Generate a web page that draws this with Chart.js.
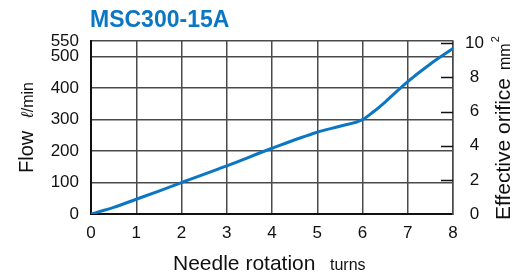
<!DOCTYPE html>
<html>
<head>
<meta charset="utf-8">
<script src="https://cdn.jsdelivr.net/npm/chart.js@4/dist/chart.umd.min.js"></script>
<style>
  html, body { margin: 0; padding: 0; background: #fff; }
  #wrap { width: 521px; height: 275px; position: relative; }
</style>
</head>
<body>
<div id="wrap"><canvas id="flowChart"></canvas></div>
<script>
// MSC300-15A 流量特性
const chartTitle = 'MSC300-15A';
const turns = [0, 0.5, 1, 1.5, 2, 3, 4, 5, 5.5, 6, 6.25, 6.5, 7, 7.5, 8];
const flow = [0, 21, 47, 73, 100, 153, 209, 260, 279, 300, 326, 356, 421, 477, 526];
const flowTicks = [0, 100, 200, 300, 400, 500, 550];
const orificeTicks = [0, 2, 4, 6, 8, 10];
const turnTicks = [0, 1, 2, 3, 4, 5, 6, 7, 8];

const FONT = '"Liberation Sans", Arial, sans-serif';
const BLUE = '#0a76c4';
const GRID = '#4a4a4a';

// 軸タイトルと右軸の内向き目盛り
const decorations = {
    id: 'decorations',
    afterDraw(chart) {
        const ctx = chart.ctx;
        const area = chart.chartArea;
        const y2 = chart.scales.y2;
        ctx.save();

        // 右軸の内向き目盛り
        ctx.strokeStyle = '#111';
        ctx.lineWidth = 1.5;
        orificeTicks.forEach(v => {
            if (v === 0) return;
            const py = Math.round(y2.getPixelForValue(v)) + 0.5;
            ctx.beginPath();
            ctx.moveTo(area.right - 12, py);
            ctx.lineTo(area.right, py);
            ctx.stroke();
        });

        // タイトル
        ctx.fillStyle = BLUE;
        ctx.font = 'bold 23px ' + FONT;
        ctx.textAlign = 'left';
        ctx.textBaseline = 'alphabetic';
        ctx.fillText(chartTitle, area.left - 1, 27);

        ctx.fillStyle = '#111';

        // 横軸タイトル
        ctx.font = '21px ' + FONT;
        ctx.fillText('Needle rotation', 173, 270);
        ctx.font = '16px ' + FONT;
        ctx.fillText('turns', 330, 270);

        // 左軸タイトル
        const cy = (area.top + area.bottom) / 2;
        ctx.save();
        ctx.translate(33, cy);
        ctx.rotate(-Math.PI / 2);
        ctx.font = '20px ' + FONT;
        const wFlow = ctx.measureText('Flow').width;
        ctx.font = 'italic 17px ' + FONT;
        const wL = ctx.measureText('ℓ').width;
        ctx.font = '16px ' + FONT;
        const wMin = ctx.measureText('/min').width;
        const gap = 13;
        let x0 = -(wFlow + gap + wL + wMin) / 2;
        ctx.font = '20px ' + FONT;
        ctx.fillText('Flow', x0, 0);
        x0 += wFlow + gap;
        ctx.font = 'italic 17px ' + FONT;
        ctx.fillText('ℓ', x0, 0);
        ctx.font = '16px ' + FONT;
        ctx.fillText('/min', x0 + wL, 0);
        ctx.restore();

        // 右軸タイトル
        ctx.save();
        ctx.translate(510, 220);
        ctx.rotate(-Math.PI / 2);
        ctx.font = '21px ' + FONT;
        ctx.fillText('Effective orifice', 0, 0);
        const wEff = ctx.measureText('Effective orifice').width;
        ctx.font = '16px ' + FONT;
        ctx.fillText('mm', wEff + 8, 0);
        const wMm = ctx.measureText('mm').width;
        ctx.font = '11px ' + FONT;
        ctx.fillText('2', wEff + 8 + wMm + 1, -11);
        ctx.restore();

        ctx.restore();
    }
};

const tickFont = { family: FONT, size: 17 };

new Chart(document.getElementById('flowChart'), {
    type: 'line',
    data: {
        datasets: [{
            label: chartTitle,
            data: turns.map((t, i) => ({ x: t, y: flow[i] })),
            borderColor: BLUE,
            borderWidth: 3,
            pointRadius: 0,
            fill: false,
            cubicInterpolationMode: 'monotone',
            yAxisID: 'y'
        }]
    },
    options: {
        responsive: true,
        maintainAspectRatio: false,
        animation: false,
        layout: { padding: { top: 41, left: 0, right: 0, bottom: 0 } },
        plugins: {
            legend: { display: false },
            title: { display: false },
            tooltip: { enabled: false }
        },
        scales: {
            x: {
                type: 'linear',
                min: 0,
                max: 8,
                afterBuildTicks: s => { s.ticks = turnTicks.map(v => ({ value: v })); },
                afterFit: s => { s.height = 61; },
                ticks: { font: tickFont, color: '#111', padding: 9, autoSkip: false, maxRotation: 0 },
                grid: { color: GRID, lineWidth: 1.5, drawTicks: false },
                border: { color: '#111', width: 2 }
            },
            y: {
                type: 'linear',
                position: 'left',
                min: 0,
                max: 550,
                afterBuildTicks: s => { s.ticks = flowTicks.map(v => ({ value: v })); },
                afterFit: s => { s.width = 91; },
                ticks: { font: tickFont, color: '#111', padding: 12, autoSkip: false },
                grid: { color: GRID, lineWidth: 1.5, drawTicks: false },
                border: { color: '#111', width: 2 }
            },
            y2: {
                type: 'linear',
                position: 'right',
                min: 0,
                max: 10.13,
                afterBuildTicks: s => { s.ticks = orificeTicks.map(v => ({ value: v })); },
                afterFit: s => { s.width = 68; },
                ticks: { font: tickFont, color: '#111', padding: 12, crossAlign: 'center', autoSkip: false },
                grid: { drawOnChartArea: false, drawTicks: false },
                border: { color: GRID, width: 1.5 }
            }
        }
    },
    plugins: [decorations]
});
</script>
</body>
</html>
